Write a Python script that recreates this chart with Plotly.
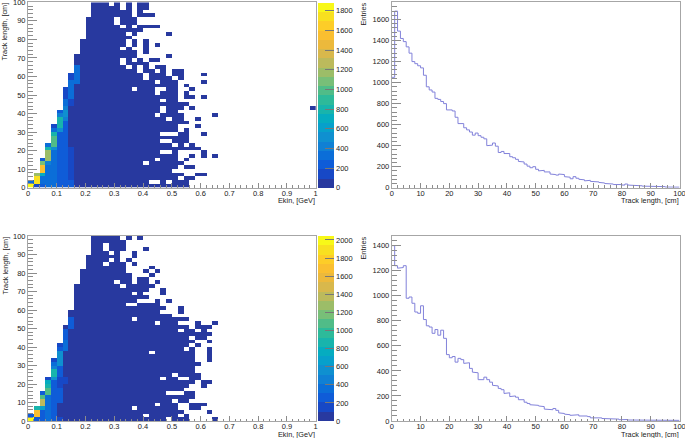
import plotly.graph_objects as go

# ---------- data ----------
# filled cells of each 2D histogram, listed from the top row (r=49) to the bottom row (r=0)
TOP_ROWS = ["11-13,15,17,19-20", "11-15,17,19-20", "11-17,19", "11-17,19-21", "10-14,16-18",
            "10-14,16-18", "10-15,17,19-22", "10-19", "10-16,18,24", "10-17",
            "9-16,18,20", "9-16,18,20,22", "9-15,17,20", "9-18,20", "8-18,24",
            "8-15,17,19,21-22", "8-15,17-20", "8-16,18,20,22-23", "8-18,20-21,23,25-26", "8-19,21-23,25-26,30",
            "7-19,21-24,26", "7-21,23-25,30", "7-25,27", "6-17,19-21,24-25,28", "6-21,23-25,27",
            "6-25,27-28,30", "6-22,24-25", "6-27", "6-22,24-26,28,49", "5-22,24-25",
            "5-21,23-26,32", "5-23,25-26,29", "5-27", "4-25,29", "4-25,27",
            "4-22,26-27,30", "4-27", "4-22,25-27", "3-24,26,28", "3-29",
            "3-22,25,30", "3-25,28,30,32", "2-21,23-25,27", "2-19,21-26", "2-25,27-28",
            "2-24", "1-26,29-30", "1-25,27-28", "0-20,23,25-27", "0-27"]
BOTTOM_ROWS = ["11-15,17,19", "11-16", "11-12,14-16", "11-12,14-16,20", "11-13,15,18",
               "10-15,18", "10-13,15,17", "10-12,14-16,18", "10-16,21", "9-16,20,22",
               "9-17,21", "9-17,19-20", "9-14,16-17,19-20,22", "8-15,17-21", "8-20,23",
               "8-17,19,23", "8-20", "8-18,22,24", "8-16,19-22", "8-23,26",
               "7-22,26", "7-24", "7-17,19-27", "7-21,23-25,29,32", "6-27,29-31",
               "6-25,27-28,30", "6-31", "6-27,29-30", "6-28,31", "5-27,29",
               "5-26,28,31", "5-20,22-28,31", "5-28,31", "4-28,31", "4-29",
               "4-28", "4-28", "4-24,26-29", "3-22,24-25,28-29", "3-28,30-31",
               "3-27,30", "3-26", "2-23,27-28", "2-28", "2-24,26-27",
               "2-21,23-25,28-30", "1-17,19-25,28-29", "1-26,31", "0-19,21-25,27", "0-23,25-27,32"]
BASE_COUNT = 40

# brighter runs: (column, first row, last row, count)
TOP_HOT = [(0, 0, 0, 1850), (0, 1, 1, 300),
           (1, 0, 0, 120), (1, 1, 2, 1700), (1, 3, 3, 1150),
           (2, 0, 0, 250), (2, 1, 2, 330), (2, 3, 3, 750), (2, 4, 5, 1520), (2, 6, 6, 1100), (2, 7, 7, 220),
           (3, 0, 5, 350), (3, 6, 6, 450), (3, 7, 9, 1200), (3, 10, 10, 800), (3, 11, 11, 300),
           (4, 0, 9, 320), (4, 10, 10, 500), (4, 11, 13, 950), (4, 14, 14, 800), (4, 15, 15, 300), (4, 16, 16, 150),
           (5, 0, 14, 250), (5, 15, 15, 500), (5, 16, 18, 800), (5, 19, 19, 400), (5, 20, 20, 200),
           (6, 0, 12, 200), (6, 13, 17, 250), (6, 18, 18, 450), (6, 19, 20, 550), (6, 21, 21, 450),
           (6, 22, 23, 300), (6, 24, 26, 100),
           (7, 0, 1, 200), (7, 2, 10, 150), (7, 22, 23, 150), (7, 24, 28, 350), (7, 29, 30, 150),
           (8, 28, 32, 300)]
BOTTOM_HOT = [(0, 0, 0, 2040), (0, 1, 1, 300),
              (1, 0, 0, 250), (1, 1, 2, 1650), (1, 3, 3, 900),
              (2, 0, 2, 300), (2, 3, 3, 700), (2, 4, 5, 1350), (2, 6, 6, 1050), (2, 7, 7, 250),
              (3, 0, 6, 350), (3, 7, 8, 1100), (3, 9, 9, 900), (3, 10, 10, 800), (3, 11, 11, 150),
              (4, 0, 10, 300), (4, 11, 11, 600), (4, 12, 13, 850), (4, 14, 14, 500), (4, 15, 15, 350), (4, 16, 16, 150),
              (5, 0, 0, 150), (5, 5, 8, 250), (5, 9, 11, 150), (5, 12, 14, 300), (5, 15, 18, 550), (5, 19, 19, 300), (5, 20, 20, 150),
              (6, 10, 11, 150), (6, 19, 20, 350), (6, 21, 21, 400), (6, 22, 24, 300), (6, 25, 25, 100),
              (7, 25, 27, 300)]

TOP_ENTRIES = [1050, 1680, 1490, 1420, 1390, 1340, 1280, 1200, 1180, 1160,
               1140, 1070, 960, 930, 910, 850, 840, 820, 800, 740,
               740, 730, 670, 610, 610, 570, 550, 530, 500, 520,
               495, 480, 465, 400, 405, 425, 395, 335, 345, 325,
               325, 295, 285, 270, 250, 245, 225, 205, 190, 200,
               175, 160, 165, 150, 150, 130, 125, 120, 130, 125,
               105, 100, 85, 105, 90, 80, 75, 65, 70, 60,
               55, 55, 50, 45, 40, 35, 35, 30, 35, 30,
               25, 35, 25, 20, 25, 20, 18, 15, 12, 15,
               8, 12, 8, 10, 10, 6, 8, 8, 5, 5]
BOTTOM_ENTRIES = [1400, 1240, 1220, 1225, 1240, 980, 990, 940, 870, 860,
                  920, 810, 760, 750, 700, 730, 685, 725, 660, 530,
                  505, 515, 470, 500, 490, 460, 465, 420, 390, 385,
                  330, 330, 350, 330, 310, 285, 280, 260, 250, 220,
                  225, 195, 200, 190, 170, 170, 150, 140, 130, 125,
                  125, 120, 115, 95, 90, 90, 100, 85, 65, 60,
                  55, 50, 45, 45, 50, 40, 45, 40, 35, 25,
                  30, 25, 25, 20, 20, 18, 15, 18, 15, 10,
                  15, 12, 8, 8, 6, 8, 5, 6, 4, 5,
                  6, 3, 4, 5, 3, 3, 4, 2, 4, 5]

PALETTE = ["#28399f", "#1748c6", "#0f5cd8", "#0b6ed8", "#1080d4", "#0f90d0", "#07a0cb", "#05acc0",
           "#18b4ac", "#2dba9a", "#50bc88", "#78bf78", "#9cbd68", "#bcba5c", "#d8b84c", "#ecb93c",
           "#fabf30", "#fdcd28", "#f8e020", "#f8f818"]
TOP_ZMAX = 1883
BOTTOM_ZMAX = 2044
TOP_YMAX = 1764
BOTTOM_YMAX = 1477
# ---------- end of data ----------

W, H = 685, 438
FONT = "Liberation Sans"
TICKFONT = dict(family=FONT, size=7.5, color="#222222")
FRAME = "#a6a6a6"
TICK = "#8c8c8c"


def build_z(rows, hot):
    z = [[None] * 50 for _ in range(50)]
    for i, spec in enumerate(rows):
        r = 49 - i
        for part in spec.split(","):
            bounds = part.split("-")
            for c in range(int(bounds[0]), int(bounds[-1]) + 1):
                z[r][c] = BASE_COUNT
    for c, r0, r1, v in hot:
        for r in range(r0, r1 + 1):
            z[r][c] = v
    return z


stepped = []
for i, col in enumerate(PALETTE):
    stepped.append([i / len(PALETTE), col])
    stepped.append([(i + 1) / len(PALETTE), col])

xc = [0.01 + 0.02 * i for i in range(50)]
yc = [1 + 2 * i for i in range(50)]

fig = go.Figure()


def px_x(a, b):
    return [a / W, b / W]


def px_y(top, bottom):
    return [1 - bottom / H, 1 - top / H]


def add_heat(rows, hot, zmax, xa, ya, top, bottom):
    fig.add_trace(go.Heatmap(
        x=xc, y=yc, z=build_z(rows, hot), zmin=0, zmax=zmax, xaxis=xa, yaxis=ya,
        colorscale=stepped, hoverongaps=False,
        colorbar=dict(
            x=317.7 / W, xanchor="left", xpad=0, ypad=0,
            y=1 - bottom / H, yanchor="bottom", len=(bottom - top) / H, lenmode="fraction",
            thickness=16.3, thicknessmode="pixels", outlinewidth=0, borderwidth=0,
            tick0=0, dtick=200, ticks="inside", ticklen=9, tickwidth=1, tickcolor="#777777",
            tickfont=TICKFONT,
        )))


def add_hist(vals, xa, ya):
    xs, ys = [0], [vals[0]]
    for i, v in enumerate(vals):
        xs += [i, i + 1]
        ys += [v, v]
    fig.add_trace(go.Scatter(x=xs, y=ys, mode="lines", xaxis=xa, yaxis=ya, showlegend=False,
                             line=dict(color="#8282da", width=1)))


add_heat(TOP_ROWS, TOP_HOT, TOP_ZMAX, "x", "y", 2.3, 187.7)
add_hist(TOP_ENTRIES, "x2", "y2")
add_heat(BOTTOM_ROWS, BOTTOM_HOT, BOTTOM_ZMAX, "x3", "y3", 236, 421)
add_hist(BOTTOM_ENTRIES, "x4", "y4")


def xaxis(domain, rng, dtick, minor, anchor):
    return dict(domain=domain, range=rng, anchor=anchor, dtick=dtick, tick0=0,
                showgrid=False, zeroline=False, showline=True, mirror=True, linecolor=FRAME, linewidth=1,
                ticks="inside", ticklen=5, tickcolor=TICK, tickwidth=1, tickfont=TICKFONT,
                ticklabelstandoff=-2, ticklabeloverflow="allow",
                minor=dict(dtick=minor, tick0=0, ticks="inside", ticklen=2.5, tickcolor=TICK, tickwidth=1, showgrid=False))


def yaxis(domain, rng, dtick, minor, anchor):
    return dict(domain=domain, range=rng, anchor=anchor, dtick=dtick, tick0=0,
                showgrid=False, zeroline=False, showline=True, mirror=True, linecolor=FRAME, linewidth=1,
                ticks="inside", ticklen=9, tickcolor=TICK, tickwidth=1, tickfont=TICKFONT,
                ticklabeloverflow="allow",
                minor=dict(dtick=minor, tick0=0, ticks="inside", ticklen=5, tickcolor=TICK, tickwidth=1, showgrid=False))


LX, RX = px_x(28, 315.7), px_x(391.8, 679.5)
TY, BY = px_y(2.3, 187.7), px_y(236, 421)


def label(text, x, y, xanchor, yanchor, angle=0):
    return dict(text=text, x=x / W, y=1 - y / H, xref="paper", yref="paper", xanchor=xanchor, yanchor=yanchor,
                textangle=angle, showarrow=False, borderpad=0, font=dict(family=FONT, size=7.3, color="#222222"))


fig.update_layout(
    width=W, height=H, margin=dict(l=0, r=0, t=0, b=0, pad=0, autoexpand=False),
    paper_bgcolor="white", plot_bgcolor="white",
    showlegend=False,
    xaxis=xaxis(LX, [0, 1], 0.1, 0.02, "y"), yaxis=yaxis(TY, [0, 100], 10, 2, "x"),
    xaxis2=xaxis(RX, [0, 100], 10, 2, "y2"), yaxis2=yaxis(TY, [0, TOP_YMAX], 200, 40, "x2"),
    xaxis3=xaxis(LX, [0, 1], 0.1, 0.02, "y3"), yaxis3=yaxis(BY, [0, 100], 10, 2, "x3"),
    xaxis4=xaxis(RX, [0, 100], 10, 2, "y4"), yaxis4=yaxis(BY, [0, BOTTOM_YMAX], 200, 40, "x4"),
    annotations=[
        label("Ekin, [GeV]", 316, 200.5, "right", "middle"),
        label("Track length, [cm]", 680, 200.5, "right", "middle"),
        label("Ekin, [GeV]", 316, 434, "right", "middle"),
        label("Track length, [cm]", 680, 434, "right", "middle"),
        label("Track length, [cm]", 4.5, 2, "center", "top", -90),
        label("Entries", 363, 2, "center", "top", -90),
        label("Track length, [cm]", 4.5, 236, "center", "top", -90),
        label("Entries", 363, 236, "center", "top", -90),
    ],
)

fig.write_html("out.html", config=dict(displayModeBar=False), post_script="document.body.style.margin='0';")
